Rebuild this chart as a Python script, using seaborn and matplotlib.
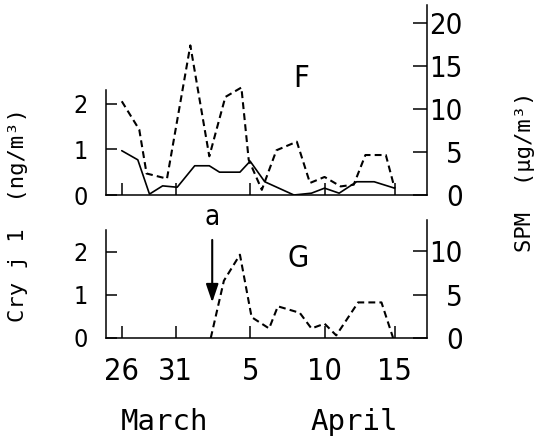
import matplotlib
matplotlib.use("Agg")
import matplotlib.pyplot as plt
import seaborn as sns

# days counted from March 31 (positions)
day_ticks = [-3.7, 0, 5.1, 10.2, 15]
day_labels = ["26", "31", "5", "10", "15"]

# panel F
f_cry_x = [-3.7, -2.6, -1.8, -0.9, 0.1, 1.3, 2.3, 3.0, 4.4, 5.1, 6.1, 8.1, 9.3, 10.2, 11.2, 12.4, 13.6, 15.0]
f_cry = [0.97, 0.77, 0.02, 0.20, 0.17, 0.64, 0.64, 0.50, 0.50, 0.74, 0.29, 0.0, 0.04, 0.15, 0.04, 0.29, 0.29, 0.15]
f_spm_x = [-3.7, -2.5, -2.0, -0.6, 1.0, 2.3, 3.4, 4.5, 5.0, 5.9, 6.9, 8.3, 9.2, 10.2, 11.3, 12.2, 13.0, 14.4, 15.0]
f_spm = [10.9, 7.6, 2.5, 1.9, 17.4, 4.5, 11.4, 12.5, 4.1, 0.6, 5.2, 6.2, 1.4, 2.1, 1.0, 1.2, 4.65, 4.65, 0.8]

# panel G
g_spm_x = [2.4, 3.3, 4.4, 5.2, 6.4, 7.0, 8.5, 9.3, 10.2, 11.0, 12.5, 14.1, 14.9]
g_spm = [0.0, 6.6, 9.6, 2.4, 1.1, 3.65, 2.9, 1.1, 1.65, 0.3, 4.1, 4.1, 0.0]

arrow_day = 2.5

sns.set_style("ticks")
plt.rcParams["font.family"] = ["DejaVu Sans"]
plt.rcParams["font.stretch"] = "condensed"
plt.rcParams["axes.linewidth"] = 1.1
for key in ["text.color", "axes.edgecolor", "xtick.color", "ytick.color",
            "xtick.labelcolor", "ytick.labelcolor"]:
    plt.rcParams[key] = "black"

fig = plt.figure(figsize=(5.41, 4.42), dpi=100)
axF = fig.add_axes([0.1954, 0.5588, 0.5933, 0.43])
axG = fig.add_axes([0.1954, 0.2353, 0.5933, 0.267])


def style_axes(ax, ax2, left_top, left_lim, right_lim, right_ticks):
    ax.set_xlim(-4.8, 17.2)
    ax.set_ylim(0, left_lim)
    ax2.set_ylim(0, right_lim)
    for a in (ax, ax2):
        a.spines["top"].set_visible(False)
    ax.spines["right"].set_visible(False)
    ax2.spines["left"].set_visible(False)
    ax2.spines["bottom"].set_visible(False)
    ax.spines["left"].set_bounds(0, left_top)
    ax.set_yticks([0, 1, 2])
    ax.set_xticks(day_ticks)
    ax2.set_yticks(right_ticks)
    ax.tick_params(axis="y", direction="in", length=8, width=1.1, pad=13, labelsize=18)
    ax.tick_params(axis="x", direction="in", length=9, width=1.1, pad=14, labelsize=22)
    ax2.tick_params(axis="y", direction="in", length=10, width=1.1, pad=26, labelsize=21)
    for lab in ax2.get_yticklabels():
        lab.set_horizontalalignment("right")
    ax.set_xlabel("")
    ax.set_ylabel("")
    ax2.set_ylabel("")
    ax.grid(False)
    ax2.grid(False)


# --- F ---
axF2 = axF.twinx()
sns.lineplot(x=f_cry_x, y=f_cry, ax=axF, color="black", linewidth=1.2)
sns.lineplot(x=f_spm_x, y=f_spm, ax=axF2, color="black", linewidth=1.5,
             linestyle=(0, (3.3, 2)))
style_axes(axF, axF2, 2.3, 4.16, 22.1, [0, 5, 10, 15, 20])
axF.set_xticklabels([])
axF2.text(8.6, 13.6, "F", fontsize=22, ha="center", va="center")

# --- G ---
axG2 = axG.twinx()
sns.lineplot(x=g_spm_x, y=g_spm, ax=axG2, color="black", linewidth=1.5,
             linestyle=(0, (3.3, 2)))
style_axes(axG, axG2, 2.5, 2.73, 13.6, [0, 5, 10])
axG.set_xticklabels(day_labels)
axG2.text(8.4, 9.2, "G", fontsize=22, ha="center", va="center")
axG2.annotate("", xy=(arrow_day, 4.1), xytext=(arrow_day, 11.3),
              arrowprops=dict(arrowstyle="-|>,head_length=0.5,head_width=0.17",
                              color="black", lw=1.5,
                              mutation_scale=22, shrinkA=0, shrinkB=0))
axG2.text(arrow_day, 13.9, "a", fontsize=20, ha="center", va="center")

# labels
mono = ["DejaVu Sans Mono", "DejaVu Sans"]
fig.text(165 / 541, 1 - 422 / 442, "March", family=mono, fontsize=21, ha="center", va="center")
fig.text(354 / 541, 1 - 422 / 442, "April", family=mono, fontsize=21, ha="center", va="center")
fig.text(18 / 541, 1 - 215 / 442, "Cry j 1  (ng/m³)", family=mono, fontsize=16,
         rotation=90, ha="center", va="center")
fig.text(525 / 541, 1 - 172 / 442, "SPM  (μg/m³)", family=mono, fontsize=16,
         rotation=90, ha="center", va="center")

fig.savefig("out.png", dpi=100)
